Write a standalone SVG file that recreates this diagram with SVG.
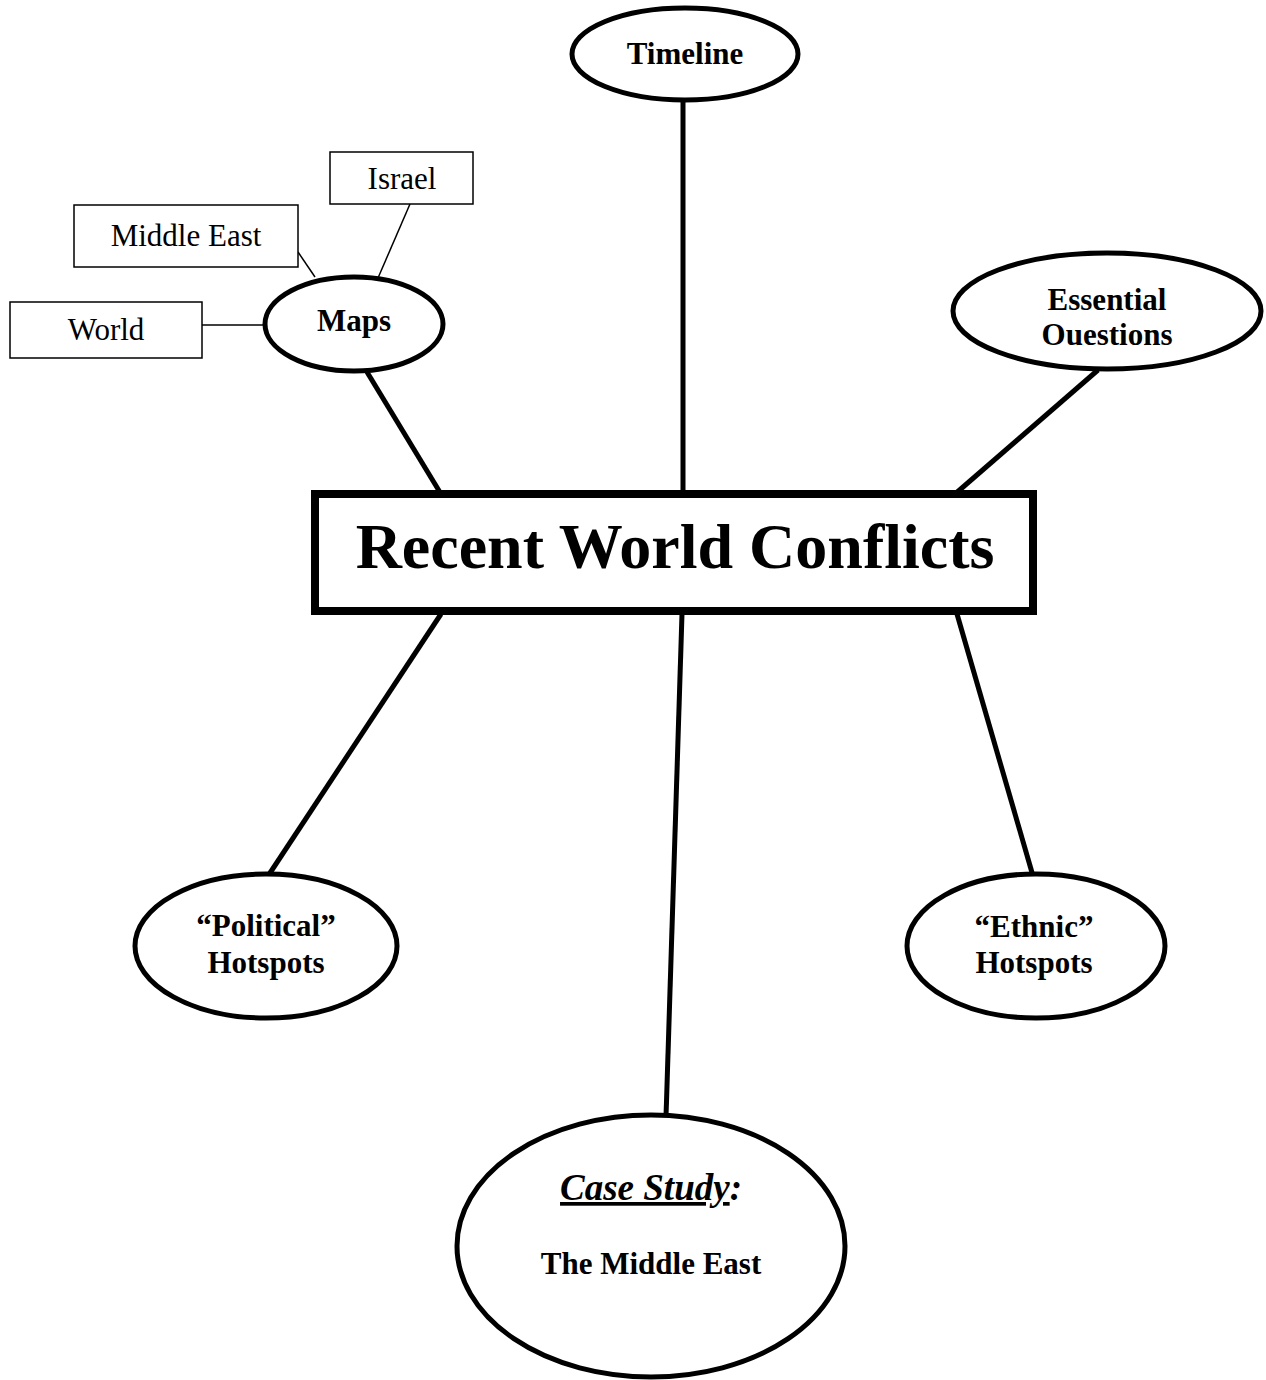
<svg xmlns="http://www.w3.org/2000/svg" width="1266" height="1380" viewBox="0 0 1266 1380">
  <style>
    .bg { fill: #ffffff; }
    .oval { fill: #ffffff; stroke: #000000; stroke-width: 5; }
    .tag { fill: #ffffff; stroke: #000000; stroke-width: 1.5; }
    .hub { fill: #ffffff; stroke: #000000; stroke-width: 8; }
    .thick { stroke: #000000; stroke-width: 5; fill: none; }
    .thin { stroke: #000000; stroke-width: 1.5; fill: none; }
    text { font-family: "Liberation Serif", "Times New Roman", serif; fill: #000000; text-anchor: middle; }
    .b { font-weight: bold; font-size: 31px; }
    .r { font-size: 31px; }
    .title { font-weight: bold; font-size: 64px; }
    .it { font-style: italic; font-weight: bold; font-size: 37px; }
  </style>
  <rect class="bg" x="0" y="0" width="1266" height="1380"/>

  <!-- spokes and leader lines -->
  <g id="connectors">
    <line class="thick" x1="683" y1="102" x2="683" y2="494"/>
    <line class="thick" x1="367" y1="372" x2="441" y2="494"/>
    <line class="thick" x1="1098" y1="370" x2="955" y2="494"/>
    <line class="thick" x1="441" y1="614" x2="268" y2="876"/>
    <line class="thick" x1="682" y1="614" x2="666" y2="1117"/>
    <line class="thick" x1="957" y1="614" x2="1033" y2="876"/>
    <line class="thin" x1="202" y1="325" x2="266" y2="325"/>
    <line class="thin" x1="298" y1="252" x2="315" y2="277"/>
    <line class="thin" x1="410" y1="204" x2="378" y2="278"/>
  </g>

  <g id="hub">
    <rect class="hub" x="315" y="494" width="718" height="117"/>
    <text class="title" x="675" y="568">Recent World Conflicts</text>
  </g>

  <g id="timeline">
    <ellipse class="oval" cx="685" cy="54" rx="113" ry="46"/>
    <text class="b" x="685" y="64">Timeline</text>
  </g>

  <g id="maps">
    <ellipse class="oval" cx="354" cy="324" rx="89" ry="47"/>
    <text class="b" x="354" y="331">Maps</text>
  </g>

  <g id="map-world">
    <rect class="tag" x="10" y="302" width="192" height="56"/>
    <text class="r" x="106" y="340">World</text>
  </g>

  <g id="map-middle-east">
    <rect class="tag" x="74" y="205" width="224" height="62"/>
    <text class="r" x="186" y="246">Middle East</text>
  </g>

  <g id="map-israel">
    <rect class="tag" x="330" y="152" width="143" height="52"/>
    <text class="r" x="402" y="189">Israel</text>
  </g>

  <g id="essential-questions">
    <ellipse class="oval" cx="1107" cy="311" rx="154" ry="58"/>
    <text class="b" x="1107" y="310">Essential</text>
    <text class="b" x="1107" y="345">Ouestions</text>
  </g>

  <g id="political-hotspots">
    <ellipse class="oval" cx="266" cy="946" rx="131" ry="72"/>
    <text class="b" x="266" y="936">“Political”</text>
    <text class="b" x="266" y="973">Hotspots</text>
  </g>

  <g id="ethnic-hotspots">
    <ellipse class="oval" cx="1036" cy="946" rx="129" ry="72"/>
    <text class="b" x="1034" y="937">“Ethnic”</text>
    <text class="b" x="1034" y="973">Hotspots</text>
  </g>

  <g id="case-study">
    <ellipse class="oval" cx="651" cy="1246" rx="194" ry="131"/>
    <text class="it" x="651" y="1200"><tspan text-decoration="underline">Case Study</tspan>:</text>
    <text class="b" x="651" y="1274">The Middle East</text>
  </g>
</svg>
